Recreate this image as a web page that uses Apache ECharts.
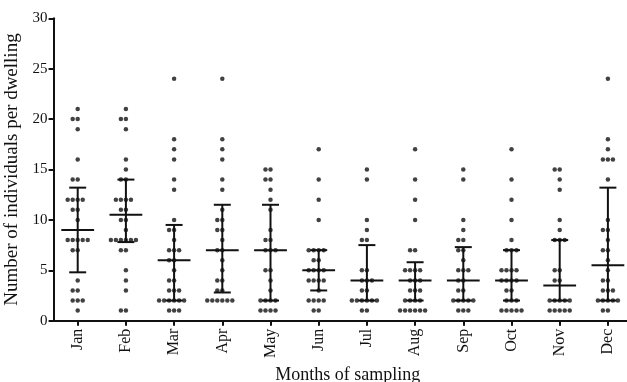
<!DOCTYPE html>
<html>
<head>
<meta charset="utf-8">
<script src="https://cdn.jsdelivr.net/npm/echarts@6/dist/echarts.min.js"></script>
<style>
  html, body { margin: 0; padding: 0; background: #fff; }
  #chart { width: 627px; height: 382px; }
</style>
</head>
<body>
<div id="chart"></div>
<script>
// Month categories
const months = ['Jan', 'Feb', 'Mar', 'Apr', 'May', 'Jun', 'Jul', 'Aug', 'Sep', 'Oct', 'Nov', 'Dec'];

// Individuals counted per dwelling, one entry per dwelling sampled
const jan = [21, 20, 20, 19, 16, 14, 14, 12, 12, 12, 12, 11, 11, 10, 8, 8, 8, 8, 8, 7, 7, 4, 3, 3, 2, 2, 2, 1];
const feb = [21, 20, 20, 19, 16, 15, 14, 14, 12, 12, 12, 12, 11, 11, 10, 10, 9, 8, 8, 8, 8, 8, 8, 7, 7, 5, 4, 3, 1, 1];
const mar = [24, 18, 17, 16, 14, 13, 10, 9, 9, 8, 7, 7, 7, 6, 6, 5, 4, 4, 3, 3, 3, 2, 2, 2, 2, 2, 2, 1, 1, 1];
const apr = [24, 18, 17, 16, 14, 13, 11, 10, 10, 9, 9, 8, 7, 7, 6, 5, 4, 4, 3, 3, 2, 2, 2, 2, 2, 2];
const may = [15, 15, 14, 14, 13, 12, 11, 9, 8, 8, 7, 7, 7, 5, 5, 4, 3, 2, 2, 2, 2, 1, 1, 1, 1];
const jun = [17, 14, 12, 10, 7, 7, 7, 7, 6, 6, 5, 5, 5, 5, 4, 4, 4, 4, 3, 2, 2, 2, 2, 1, 1];
const jul = [15, 14, 10, 9, 8, 8, 5, 5, 4, 4, 4, 3, 3, 2, 2, 2, 2, 2, 2, 1, 1];
const aug = [17, 14, 12, 10, 7, 7, 5, 5, 5, 5, 4, 4, 4, 3, 3, 3, 2, 2, 2, 2, 1, 1, 1, 1, 1, 1];
const sep = [15, 14, 10, 9, 8, 8, 7, 7, 6, 5, 5, 5, 4, 4, 3, 3, 2, 2, 2, 2, 2, 1, 1, 1];
const oct = [17, 14, 12, 10, 8, 7, 7, 7, 5, 5, 5, 5, 4, 4, 4, 4, 3, 3, 2, 2, 2, 1, 1, 1, 1, 1];
const nov = [15, 15, 14, 13, 10, 9, 8, 8, 8, 5, 5, 4, 4, 2, 2, 2, 2, 2, 1, 1, 1, 1, 1];
const dec = [24, 18, 17, 16, 16, 16, 14, 10, 9, 9, 8, 7, 7, 6, 5, 4, 4, 3, 3, 3, 2, 2, 2, 2, 2, 1, 1];

// Median and interquartile range per month
const medians = [9, 10.5, 6, 7, 7, 5, 4, 4, 4, 4, 3.5, 5.5];
const lowerQ = [4.8, 7.8, 2, 2.8, 2, 3, 2, 2, 2, 2, 2, 2];
const upperQ = [13.2, 14, 9.5, 11.5, 11.5, 7, 7.5, 5.8, 7.3, 7, 8, 13.2];

// Y-axis range
const yTicks = { min: 0, max: 30, interval: 5 };

const perMonth = [jan, feb, mar, apr, may, jun, jul, aug, sep, oct, nov, dec];

// Spread dots sharing a value side by side around the month centre
const DOT_STEP = 0.104;
const dots = [];
perMonth.forEach((vals, mi) => {
  const groups = {};
  vals.forEach(v => { (groups[v] = groups[v] || []).push(v); });
  Object.keys(groups).forEach(key => {
    const n = groups[key].length;
    for (let k = 0; k < n; k++) {
      dots.push([mi + (k - Math.floor(n / 2)) * DOT_STEP, Number(key)]);
    }
  });
});

const bars = months.map((m, i) => [i, lowerQ[i], medians[i], upperQ[i]]);

const ink = '#111111';
const serif = '"Liberation Serif", "Times New Roman", serif';

const chart = echarts.init(document.getElementById('chart'), null, { renderer: 'canvas' });

chart.setOption({
  animation: false,
  backgroundColor: '#ffffff',
  grid: {
    left: 53.6, right: -5, top: 18.3, bottom: 61.3,
    containLabel: false,
    outerBoundsMode: 'none'
  },
  xAxis: [
    {
      type: 'category',
      data: months,
      boundaryGap: true,
      name: 'Months of sampling',
      nameLocation: 'middle',
      nameGap: 41,
      nameTextStyle: { fontFamily: serif, fontSize: 18, color: ink, padding: [0, 0, 0, 10] },
      axisLine: { show: true, onZero: false, lineStyle: { color: ink, width: 2 } },
      axisTick: { show: true, alignWithLabel: true, length: 5, lineStyle: { color: ink, width: 2 } },
      axisLabel: { rotate: 90, margin: 8, fontFamily: serif, fontSize: 16, color: ink },
      splitLine: { show: false }
    },
    {
      type: 'value',
      min: -0.5,
      max: 11.5,
      show: false,
      axisLine: { onZero: false }
    }
  ],
  yAxis: {
    type: 'value',
    min: yTicks.min,
    max: yTicks.max,
    interval: yTicks.interval,
    name: 'Number of individuals per dwelling',
    nameLocation: 'middle',
    nameGap: 23,
    nameTextStyle: { fontFamily: serif, fontSize: 19, color: ink },
    axisLine: { show: true, onZero: false, lineStyle: { color: ink, width: 2 } },
    axisTick: { show: true, length: 5, lineStyle: { color: ink, width: 2 } },
    axisLabel: { margin: 6, fontFamily: serif, fontSize: 15, color: ink },
    splitLine: { show: false }
  },
  series: [
    {
      type: 'custom',
      xAxisIndex: 1,
      data: bars,
      z: 3,
      renderItem: function (params, api) {
        const i = api.value(0);
        const lo = api.coord([i, api.value(1)]);
        const mid = api.coord([i, api.value(2)]);
        const hi = api.coord([i, api.value(3)]);
        const unit = api.size([1, 0])[0];
        const medHalf = unit * 0.34;
        const capHalf = unit * 0.176;
        const style = { stroke: ink, lineWidth: 2, fill: null };
        return {
          type: 'group',
          children: [
            { type: 'line', shape: { x1: mid[0], y1: hi[1], x2: mid[0], y2: lo[1] }, style: style },
            { type: 'line', shape: { x1: mid[0] - capHalf, y1: hi[1], x2: mid[0] + capHalf, y2: hi[1] }, style: style },
            { type: 'line', shape: { x1: mid[0] - capHalf, y1: lo[1], x2: mid[0] + capHalf, y2: lo[1] }, style: style },
            { type: 'line', shape: { x1: mid[0] - medHalf, y1: mid[1], x2: mid[0] + medHalf, y2: mid[1] }, style: style }
          ]
        };
      }
    },
    {
      type: 'scatter',
      xAxisIndex: 1,
      data: dots,
      symbol: 'circle',
      symbolSize: 4.5,
      itemStyle: { color: ink },
      z: 4
    }
  ]
});
</script>
</body>
</html>
